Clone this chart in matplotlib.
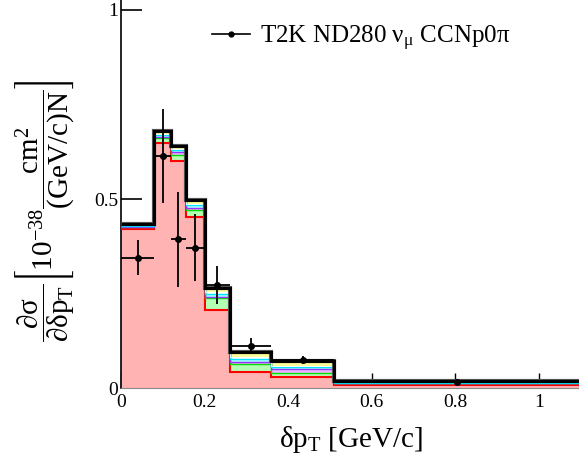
import numpy as np
import matplotlib
matplotlib.use("Agg")
import matplotlib.pyplot as plt
from matplotlib.lines import Line2D

plt.rcParams["font.family"] = ["Liberation Serif", "DejaVu Serif"]
plt.rcParams["mathtext.fontset"] = "custom"
plt.rcParams["mathtext.rm"] = "Liberation Serif"
plt.rcParams["mathtext.it"] = "Liberation Serif:italic"
plt.rcParams["mathtext.bf"] = "Liberation Serif:bold"
plt.rcParams["mathtext.fallback"] = "stix"

# Binning in delta pT [GeV/c]
edges = [0.0, 0.08, 0.12, 0.155, 0.2, 0.26, 0.36, 0.51, 1.1]

# Stacked model components (10^-38 cm^2 / (GeV/c) / N)
comp_pink = [0.420, 0.648, 0.601, 0.452, 0.207, 0.043, 0.030, 0.008]
comp_green = [0.005, 0.013, 0.015, 0.019, 0.031, 0.021, 0.011, 0.004]
comp_purple = [0.002, 0.003, 0.008, 0.004, 0.003, 0.004, 0.008, 0.001]
comp_cyan = [0.002, 0.006, 0.006, 0.010, 0.008, 0.010, 0.007, 0.001]
comp_white = [0.001, 0.002, 0.002, 0.003, 0.004, 0.004, 0.003, 0.001]
comp_yellow = [0.004, 0.007, 0.008, 0.009, 0.011, 0.013, 0.013, 0.003]

# T2K data
data_x = [0.04, 0.10, 0.1375, 0.1775, 0.23, 0.31, 0.435, 0.805]
data_y = [0.345, 0.614, 0.393, 0.371, 0.272, 0.111, 0.074, 0.015]
data_err = [0.047, 0.124, 0.126, 0.089, 0.050, 0.021, 0.011, 0.003]

layers = [
    (comp_pink, "#ffb3b3", "red", 1.5),
    (comp_green, "#b3ffb3", "#00dd00", 1.0),
    (comp_purple, "#f0b3ff", "#9933ff", 1.0),
    (comp_cyan, "#a6ffff", "#00e5ff", 1.0),
    (comp_white, "white", "white", 0.6),
    (comp_yellow, "#ffff99", "#ffee00", 1.0),
]

fig = plt.figure(figsize=(5.79, 4.61), dpi=100)
ax = fig.add_axes([121 / 579, 73 / 461, 1.1 * 418 / 579, 388 / 461])

edges_arr = np.array(edges)
bottom = np.zeros(len(edges) - 1)
for vals, fc, ec, lw in layers:
    top = bottom + np.array(vals)
    ax.stairs(top, edges_arr, baseline=bottom, fill=True, color=fc, zorder=2)
    bottom = top
bottom = np.zeros(len(edges) - 1)
for vals, fc, ec, lw in layers:
    top = bottom + np.array(vals)
    ax.stairs(top, edges_arr, baseline=None, color=ec, lw=lw, zorder=3)
    bottom = top

# total
ax.stairs(bottom, edges_arr, baseline=None, color="#555555", lw=3.0, zorder=4)
ax.stairs(bottom, edges_arr, baseline=None, color="black", lw=2.2, zorder=5)

xerr = [(edges[i + 1] - edges[i]) / 2 for i in range(len(edges) - 1)]
ax.errorbar(data_x, data_y, yerr=data_err, xerr=xerr, fmt="o", color="black",
            ms=4, elinewidth=1.3, capsize=0, zorder=6)

ax.set_xlim(0, 1.1)
ax.set_ylim(0, 388 / 378)
ax.set_xticks([0, 0.2, 0.4, 0.6, 0.8, 1.0])
ax.set_xticklabels(["0", "0.2", "0.4", "0.6", "0.8", "1"])
ax.set_yticks([0, 0.5, 1.0])
ax.set_yticklabels(["0", "0.5", "1"])
ax.tick_params(axis="x", direction="in", length=11, width=1, labelsize=14, pad=4)
ax.tick_params(axis="y", direction="in", length=15, width=1.2, labelsize=14, pad=2)
ax.set_axisbelow(True)
for s in ["top", "right"]:
    ax.spines[s].set_visible(False)
ax.spines["left"].set_linewidth(1.2)
ax.spines["bottom"].set_color("#888888")

ax.set_xlabel(r"$\mathrm{\delta p_{T}}$ [GeV/c]", fontsize=21, labelpad=10)
ax.set_ylabel(r"$\dfrac{\mathrm{\partial\sigma}}{\mathrm{\partial\delta p_{T}}}\left[\mathrm{10^{-38}}\dfrac{\mathrm{cm^{2}}}{\mathrm{(GeV/c)N}}\right]$",
              fontsize=21)
ax.yaxis.set_label_coords(-0.0935, 0.456)

handle = Line2D([], [], color="black", marker="o", ms=3.5, lw=1.2)
ax.legend([handle], [r"T2K ND280 $\mathrm{\nu_{\mu}}$ CCNp0$\mathrm{\pi}$"], loc="upper right",
          bbox_to_anchor=(0.895, 0.997), frameon=False, fontsize=18, handlelength=1.5,
          handletextpad=0.4)

fig.savefig("out.png", dpi=100)
